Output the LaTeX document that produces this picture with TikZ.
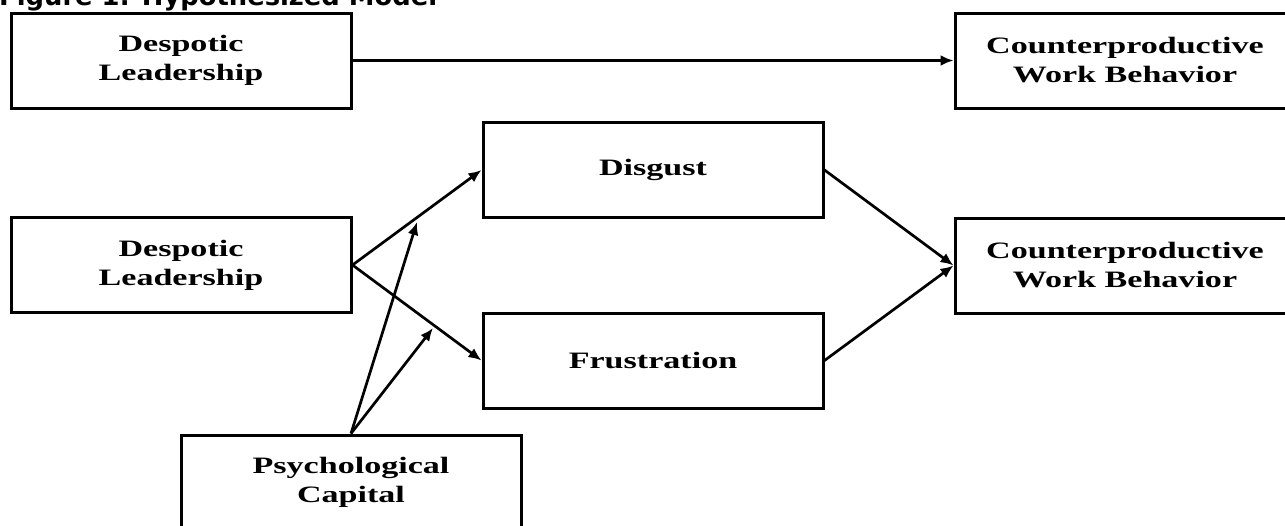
\documentclass[tikz,border=0pt]{standalone}
\usepackage{fontspec}
\usetikzlibrary{arrows.meta,calc}
\newfontfamily\boxfont{Liberation Serif}[FakeStretch=1.45]
\newfontfamily\titlefont{DejaVu Sans}
\begin{document}
\begin{tikzpicture}[x=1pt,y=-1pt,
  varbox/.style={draw=black, line width=3pt, minimum width=340pt, minimum height=95pt,
    inner sep=0pt, align=center,
    font=\boxfont\bfseries\fontsize{23.5}{29}\selectfont},
  link/.style={line width=2.7pt, -{Latex[length=13pt,width=11pt]}}]
\useasboundingbox (0,0) rectangle (1285,525);
\node[anchor=base west, inner sep=0pt, font=\titlefont\bfseries\fontsize{25.8}{30}\selectfont] (title) at (-1,5) {Figure 1: Hypothesized Model};
\node[varbox] (dl1) at (181,60.5) {Despotic\\Leadership};
\node[varbox] (cwb1) at (1125,60.5) {Counterproductive\\Work Behavior};
\node[varbox] (dis) at (653,170) {Disgust};
\node[varbox] (dl2) at (181,265) {Despotic\\Leadership};
\node[varbox] (cwb2) at (1125,265.5) {Counterproductive\\Work Behavior};
\node[varbox] (fru) at (653,360.5) {Frustration};
\node[varbox] (psy) at (351,482.5) {Psychological\\Capital};
\coordinate (m1) at (417,222);
\coordinate (m2) at (433,328);
\draw[link] (dl1.east) -- (cwb1.west);
\draw[link] (dl2.east) -- (dis.west);
\draw[link] (dl2.east) -- (fru.west);
\draw[link] (psy.north) -- (m1);
\draw[link] (psy.north) -- (m2);
\draw[link] (dis.east) -- (cwb2.west);
\draw[link] (fru.east) -- (cwb2.west);
\end{tikzpicture}
\end{document}
